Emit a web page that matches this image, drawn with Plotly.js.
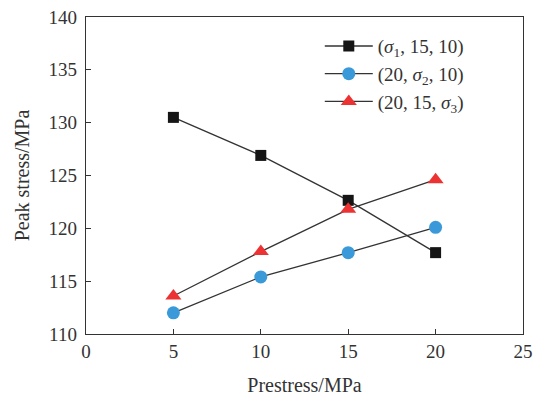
<!DOCTYPE html>
<html>
<head>
<meta charset="utf-8">
<script src="https://cdn.plot.ly/plotly-3.0.1.min.js"></script>
<style>html,body{margin:0;padding:0;background:#fff;}#chart{width:539px;height:405px;}</style>
</head>
<body>
<div id="chart"></div>
<script>
var prestress = [5, 10, 15, 20];
var sigma1Series = [130.5, 126.9, 122.65, 117.7];
var sigma2Series = [112.0, 115.4, 117.7, 120.1];
var sigma3Series = [113.6, 117.8, 121.8, 124.6];
var seriesNames = ['(<i>σ</i><sub>1</sub>, 15, 10)', '(20, <i>σ</i><sub>2</sub>, 10)', '(20, 15, <i>σ</i><sub>3</sub>)'];
var xTicks = [0, 5, 10, 15, 20, 25];
var yTicks = [110, 115, 120, 125, 130, 135, 140];

var lineStyle = {color: '#333333', width: 1.3};
var traces = [
  {x: prestress, y: sigma1Series, name: seriesNames[0], mode: 'lines+markers', line: lineStyle,
   marker: {symbol: 'square', size: 11, color: '#151515'}},
  {x: prestress, y: sigma2Series, name: seriesNames[1], mode: 'lines+markers', line: lineStyle,
   marker: {symbol: 'circle', size: 13, color: '#3a9ad9'}},
  {x: prestress, y: sigma3Series, name: seriesNames[2], mode: 'lines+markers', line: lineStyle,
   marker: {symbol: 'triangle-up', size: 14, color: '#ec3232'}}
];

var font = {family: '"Liberation Serif", "Times New Roman", serif', size: 19, color: '#333333'};
var layout = {
  width: 539, height: 405,
  margin: {l: 86, r: 16, t: 17, b: 71},
  paper_bgcolor: '#ffffff', plot_bgcolor: '#ffffff',
  font: font,
  showlegend: true,
  legend: {x: 0.535, y: 0.968, xanchor: 'left', yanchor: 'top', bgcolor: 'rgba(0,0,0,0)',
    font: {family: font.family, size: 19, color: '#333333'}, itemwidth: 48, tracegroupgap: 0},
  xaxis: {range: [0, 25], tickvals: xTicks, ticks: 'inside', ticklen: 5, tickcolor: '#333',
    showline: true, linecolor: '#333', linewidth: 1.3, mirror: true, showgrid: false, zeroline: false,
    title: {text: 'Prestress/MPa', font: {family: font.family, size: 20, color: '#333'}, standoff: 17},
    tickfont: {family: font.family, size: 19, color: '#333'}},
  yaxis: {range: [110, 140], tickvals: yTicks, ticks: 'inside', ticklen: 5, tickcolor: '#333',
    showline: true, linecolor: '#333', linewidth: 1.3, mirror: true, showgrid: false, zeroline: false,
    title: {text: 'Peak stress/MPa', font: {family: font.family, size: 20, color: '#333'}, standoff: 13},
    tickfont: {family: font.family, size: 19, color: '#333'}, ticklabelstandoff: 4}
};
Plotly.newPlot('chart', traces, layout, {displayModeBar: false, staticPlot: true});
</script>
</body>
</html>
